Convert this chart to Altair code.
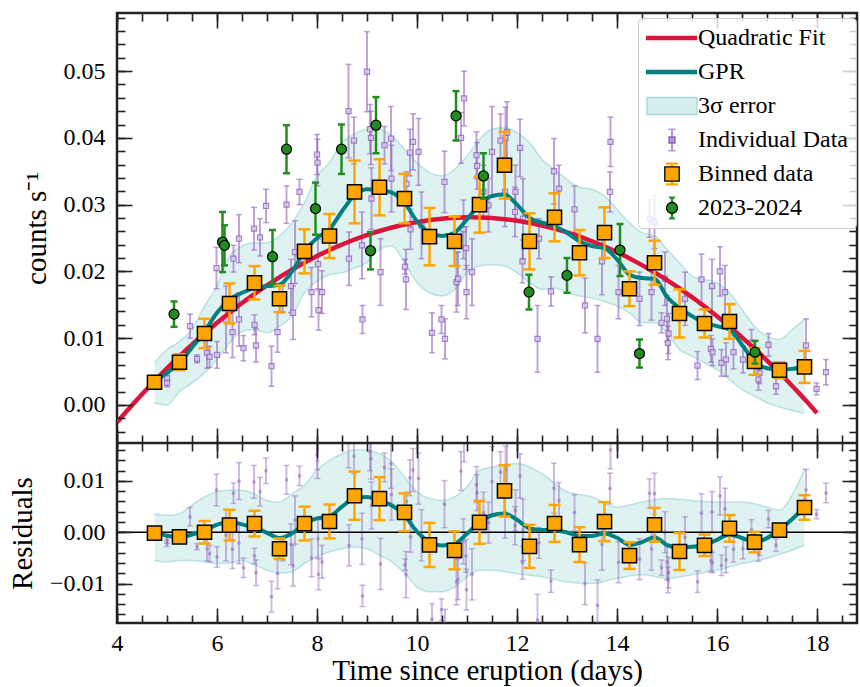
import altair as alt
import numpy as np
import pandas as pd

FONT = "Liberation Serif"
INK = "#222222"
PURPLE = "#9467bd"
ORANGE = "#FFA500"
GREEN = "#228B22"
CRIMSON = "#DC143C"
TEAL = "#008080"
BAND = "#40b0b0"

# ---- individual observations: days since eruption, count rate (counts/s), 1-sigma error
IND_T = [5.00, 5.00, 5.46, 5.60, 5.80, 5.85, 5.99, 6.00, 6.18, 6.31,
         6.33, 6.44, 6.44, 6.53, 6.74, 6.75, 6.78, 6.86, 6.98, 7.09,
         7.21, 7.31, 7.39, 7.48, 7.52, 7.56, 7.65, 7.89, 8.00, 8.01,
         8.02, 8.03, 8.10, 8.63, 8.64, 8.74, 8.90, 8.91, 9.00, 9.06,
         9.08, 9.09, 9.27, 9.35, 9.48, 9.49, 9.76, 9.78, 9.79, 9.86,
         9.87, 9.92, 10.03, 10.09, 10.30, 10.49, 10.55, 10.56, 10.79, 10.82,
         10.88, 10.93, 10.94, 10.98, 10.99, 11.10, 11.19, 11.20, 11.33, 11.43,
         11.50, 11.67, 11.76, 11.77, 11.80, 11.96, 11.97, 12.06, 12.11, 12.12,
         12.41, 12.44, 12.68, 12.74, 12.84, 13.15, 13.36, 13.61, 13.70, 13.86,
         13.87, 14.03, 14.45, 14.65, 14.69, 14.75, 14.89, 14.96, 15.00, 15.02,
         15.03, 15.36, 15.61, 15.69, 15.88, 15.90, 15.91, 16.06, 16.09, 16.16,
         16.18, 16.33, 16.52, 16.69, 16.83, 16.85, 17.03, 17.18, 17.78, 17.99,
         18.18]
IND_Y = [0.0040, 0.0033, 0.0118, 0.0069, 0.0078, 0.0072, 0.0205, 0.0075, 0.0128, 0.0109,
         0.0219, 0.0249, 0.0128, 0.0085, 0.0264, 0.0120, 0.0089, 0.0251, 0.0298, 0.0058,
         0.0109, 0.0158, 0.0300, 0.0178, 0.0138, 0.0229, 0.0319, 0.0169, 0.0375, 0.0363,
         0.0211, 0.0142, 0.0169, 0.0440, 0.0219, 0.0396, 0.0239, 0.0128, 0.0499, 0.0413,
         0.0400, 0.0309, 0.0199, 0.0389, 0.0399, 0.0339, 0.0207, 0.0188, 0.0331, 0.0378,
         0.0263, 0.0394, 0.0379, 0.0269, 0.0108, 0.0128, 0.0334, 0.0099, 0.0184, 0.0189,
         0.0400, 0.0263, 0.0459, 0.0235, 0.0169, 0.0199, 0.0374, 0.0358, 0.0319, 0.0299,
         0.0379, 0.0396, 0.0319, 0.0400, 0.0408, 0.0289, 0.0319, 0.0385, 0.0215, 0.0279,
         0.0099, 0.0249, 0.0170, 0.0350, 0.0324, 0.0293, 0.0149, 0.0099, 0.0215, 0.0319,
         0.0394, 0.0169, 0.0159, 0.0279, 0.0169, 0.0274, 0.0123, 0.0189, 0.0129, 0.0093,
         0.0107, 0.0159, 0.0059, 0.0188, 0.0084, 0.0178, 0.0079, 0.0200, 0.0063, 0.0169,
         0.0068, 0.0079, 0.0068, 0.0093, 0.0038, 0.0048, 0.0090, 0.0028, 0.0089, 0.0024,
         0.0049]
IND_E = [0.0006, 0.0006, 0.0018, 0.0006, 0.0023, 0.0016, 0.0031, 0.0020, 0.0050, 0.0038,
         0.0020, 0.0036, 0.0040, 0.0019, 0.0032, 0.0015, 0.0025, 0.0028, 0.0025, 0.0030,
         0.0030, 0.0020, 0.0028, 0.0040, 0.0040, 0.0047, 0.0019, 0.0037, 0.0030, 0.0035,
         0.0037, 0.0030, 0.0032, 0.0070, 0.0040, 0.0035, 0.0050, 0.0021, 0.0060, 0.0037,
         0.0040, 0.0046, 0.0050, 0.0028, 0.0048, 0.0050, 0.0011, 0.0045, 0.0018, 0.0035,
         0.0030, 0.0042, 0.0050, 0.0050, 0.0030, 0.0021, 0.0046, 0.0030, 0.0045, 0.0040,
         0.0038, 0.0044, 0.0041, 0.0032, 0.0040, 0.0050, 0.0035, 0.0035, 0.0040, 0.0040,
         0.0068, 0.0040, 0.0052, 0.0046, 0.0046, 0.0037, 0.0040, 0.0043, 0.0032, 0.0060,
         0.0050, 0.0030, 0.0022, 0.0049, 0.0035, 0.0035, 0.0041, 0.0050, 0.0050, 0.0030,
         0.0037, 0.0040, 0.0040, 0.0028, 0.0042, 0.0040, 0.0015, 0.0040, 0.0035, 0.0025,
         0.0030, 0.0040, 0.0021, 0.0038, 0.0020, 0.0040, 0.0020, 0.0037, 0.0020, 0.0040,
         0.0025, 0.0025, 0.0020, 0.0020, 0.0016, 0.0016, 0.0017, 0.0012, 0.0040, 0.0009,
         0.0019]

# ---- half-day bins
BIN_T = [4.75, 5.25, 5.75, 6.25, 6.75, 7.25, 7.75, 8.25, 8.75, 9.25, 9.75, 10.25, 10.75,
         11.25, 11.75, 12.25, 12.75, 13.25, 13.75, 14.25, 14.75, 15.25, 15.75, 16.25,
         16.75, 17.25, 17.75]
BIN_Y = [0.0034, 0.0064, 0.0107, 0.0152, 0.0183, 0.0159, 0.0230, 0.0253, 0.0319, 0.0326,
         0.0309, 0.0252, 0.0245, 0.0300, 0.0359, 0.0245, 0.0281, 0.0228, 0.0258, 0.0174,
         0.0213, 0.0137, 0.0122, 0.0125, 0.0065, 0.0052, 0.0057]
BIN_E = [0.0005, 0.0012, 0.0022, 0.0030, 0.0025, 0.0020, 0.0033, 0.0033, 0.0047, 0.0042,
         0.0037, 0.0043, 0.0037, 0.0042, 0.0050, 0.0042, 0.0036, 0.0034, 0.0038, 0.0026,
         0.0033, 0.0036, 0.0021, 0.0026, 0.0020, 0.0012, 0.0024]

# ---- 2023-2024 eruption
NEW_T = [5.14, 6.11, 6.15, 7.11, 7.39, 7.97, 8.49, 9.07, 9.18, 10.78, 11.33, 12.24,
         13.00, 14.06, 14.45, 16.76]
NEW_Y = [0.0136, 0.0244, 0.0239, 0.0222, 0.0383, 0.0294, 0.0383, 0.0231, 0.0419, 0.0433,
         0.0343, 0.0169, 0.0194, 0.0232, 0.0077, 0.0079]
NEW_E = [0.0019, 0.0045, 0.0030, 0.0040, 0.0036, 0.0039, 0.0037, 0.0028, 0.0042, 0.0037,
         0.0034, 0.0026, 0.0026, 0.0039, 0.0021, 0.0017]

# ---- Gaussian-process regression curve and its 3-sigma envelope
GPR_T = [4.75, 5.0, 5.25, 5.5, 5.75, 6.0, 6.25, 6.5, 6.75, 7.0, 7.25, 7.5, 7.75, 8.0,
         8.25, 8.5, 8.75, 9.0, 9.25, 9.5, 9.75, 10.0, 10.25, 10.5, 10.75, 11.0, 11.25,
         11.5, 11.75, 12.0, 12.25, 12.5, 12.75, 13.0, 13.25, 13.5, 13.75, 14.0, 14.25,
         14.5, 14.75, 15.0, 15.25, 15.5, 15.75, 16.0, 16.25, 16.5, 16.75, 17.0, 17.25,
         17.5, 17.75]
GPR_Y = [0.0035, 0.0048, 0.0063, 0.0086, 0.0110, 0.0138, 0.0158, 0.0168, 0.0175, 0.0178,
         0.0180, 0.0200, 0.0230, 0.0250, 0.0263, 0.0290, 0.0314, 0.0323, 0.0322, 0.0318,
         0.0303, 0.0275, 0.0258, 0.0253, 0.0258, 0.0278, 0.0300, 0.0313, 0.0315, 0.0300,
         0.0280, 0.0273, 0.0268, 0.0258, 0.0245, 0.0238, 0.0235, 0.0218, 0.0195, 0.0190,
         0.0189, 0.0162, 0.0145, 0.0133, 0.0123, 0.0118, 0.0113, 0.0090, 0.0065, 0.0055,
         0.0053, 0.0054, 0.0058]
GPR_HI = [0.0063, 0.0083, 0.0095, 0.0113, 0.0148, 0.0178, 0.0223, 0.0238, 0.0243, 0.0243,
          0.0253, 0.0273, 0.0303, 0.0343, 0.0363, 0.0393, 0.0406, 0.0413, 0.0413, 0.0403,
          0.0383, 0.0363, 0.0348, 0.0343, 0.0353, 0.0373, 0.0398, 0.0413, 0.0415, 0.0408,
          0.0393, 0.0368, 0.0353, 0.0338, 0.0326, 0.0323, 0.0313, 0.0293, 0.0273, 0.0258,
          0.0253, 0.0233, 0.0213, 0.0193, 0.0188, 0.0183, 0.0168, 0.0143, 0.0118, 0.0103,
          0.0098, 0.0113, 0.0128]
GPR_LO = [0.0003, 0.0000, 0.0020, 0.0033, 0.0048, 0.0068, 0.0093, 0.0110, 0.0113, 0.0108,
          0.0118, 0.0133, 0.0168, 0.0185, 0.0195, 0.0198, 0.0205, 0.0213, 0.0233, 0.0238,
          0.0213, 0.0183, 0.0168, 0.0163, 0.0173, 0.0198, 0.0208, 0.0210, 0.0208, 0.0198,
          0.0183, 0.0173, 0.0175, 0.0168, 0.0163, 0.0160, 0.0155, 0.0148, 0.0138, 0.0123,
          0.0123, 0.0108, 0.0083, 0.0073, 0.0063, 0.0053, 0.0038, 0.0023, 0.0013, 0.0003,
          -0.0003, -0.0008, -0.0013]

# ---- 3-sigma envelope of the GPR fit to the residuals
RES_T = [4.75, 5.0, 5.25, 5.5, 5.75, 6.0, 6.25, 6.5, 6.75, 7.0, 7.25, 7.5, 7.75, 8.0,
         8.25, 8.5, 8.75, 9.0, 9.25, 9.5, 9.75, 10.0, 10.25, 10.5, 10.75, 11.0, 11.25,
         11.5, 12.0, 12.5, 13.0, 13.5, 14.0, 14.5, 15.0, 15.5, 16.0, 16.5, 17.0, 17.25,
         17.5, 17.75]
RES_HI = [0.0036, 0.0033, 0.0036, 0.0053, 0.0069, 0.0079, 0.0082, 0.0082, 0.0075, 0.0062,
          0.0059, 0.0075, 0.0092, 0.0121, 0.0140, 0.0153, 0.0161, 0.0160, 0.0153, 0.0137,
          0.0108, 0.0079, 0.0066, 0.0062, 0.0069, 0.0088, 0.0121, 0.0127, 0.0134, 0.0114,
          0.0079, 0.0069, 0.0049, 0.0059, 0.0066, 0.0062, 0.0059, 0.0059, 0.0049, 0.0043,
          0.0072, 0.0123]
RES_LO = [-0.0055, -0.0058, -0.0055, -0.0055, -0.0058, -0.0061, -0.0060, -0.0055, -0.0064,
          -0.0074, -0.0080, -0.0077, -0.0061, -0.0048, -0.0038, -0.0032, -0.0029, -0.0032,
          -0.0045, -0.0058, -0.0080, -0.0107, -0.0116, -0.0116, -0.0107, -0.0087, -0.0074,
          -0.0074, -0.0081, -0.0087, -0.0097, -0.0100, -0.0090, -0.0083, -0.0090, -0.0083,
          -0.0074, -0.0061, -0.0051, -0.0043, -0.0035, -0.0025]

# quadratic fit rate = c0 + c1*t + c2*t^2, drawn over 4-18 d
QUAD_COEFFS = [-0.047035, 0.013562, -0.000612]
QUAD_RANGE = [4.0, 18.0]

# axis limits
X_DOMAIN = [4.0, 18.8]
TOP_DOMAIN = [-0.0057, 0.0587]
RES_DOMAIN = [-0.0177, 0.0174]


def quad(t):
    t = np.asarray(t, dtype=float)
    return QUAD_COEFFS[0] + QUAD_COEFFS[1] * t + QUAD_COEFFS[2] * t * t


# ---------------------------------------------------------------- tables
ind = pd.DataFrame({"t": IND_T, "y": IND_Y, "e": IND_E})
ind["lo"] = ind.y - ind.e
ind["hi"] = ind.y + ind.e
ind["r"] = ind.y - quad(ind.t)
ind["rlo"] = ind.r - ind.e
ind["rhi"] = ind.r + ind.e

binned = pd.DataFrame({"t": BIN_T, "y": BIN_Y, "e": BIN_E})
binned["lo"] = binned.y - binned.e
binned["hi"] = binned.y + binned.e
binned["r"] = binned.y - quad(binned.t)
binned["rlo"] = binned.r - binned.e
binned["rhi"] = binned.r + binned.e

new = pd.DataFrame({"t": NEW_T, "y": NEW_Y, "e": NEW_E})
new["lo"] = new.y - new.e
new["hi"] = new.y + new.e

gpr = pd.DataFrame({"t": GPR_T, "y": GPR_Y, "lo": GPR_LO, "hi": GPR_HI})
gpr["r"] = gpr.y - quad(gpr.t)
res_band = pd.DataFrame({"t": RES_T, "lo": RES_LO, "hi": RES_HI})

tq = np.linspace(QUAD_RANGE[0], QUAD_RANGE[1], 141)
fit = pd.DataFrame({"t": tq, "y": quad(tq)})
zero = pd.DataFrame({"y": [0.0]})
divider = pd.DataFrame({"y": [TOP_DOMAIN[0]]})

# ---------------------------------------------------------------- geometry
W, H_TOP, H_RES = 740, 430, 180
H = H_TOP + H_RES

XS = alt.Scale(domain=X_DOMAIN, nice=False, zero=False)
# both panels share one view: the light curve occupies the upper 430 px,
# the residuals the lower 180 px
YS_TOP = alt.Scale(domain=TOP_DOMAIN, range=[H_TOP, 0], nice=False, zero=False, clamp=True)
YS_RES = alt.Scale(domain=RES_DOMAIN, range=[H, H_TOP], nice=False, zero=False, clamp=True)

X_MAJOR = [4, 6, 8, 10, 12, 14, 16, 18]
X_MINOR = [round(4 + 0.5 * i, 2) for i in range(30)]
Y_MAJOR_TOP = [0.0, 0.01, 0.02, 0.03, 0.04, 0.05]
Y_MINOR_TOP = [round(-0.004 + 0.002 * i, 3) for i in range(32)]
Y_MAJOR_RES = [-0.01, 0.0, 0.01]
Y_MINOR_RES = [round(-0.016 + 0.002 * i, 3) for i in range(17)]
MAJ, MIN = 15, 8


def tick_axis(orient, values, length, offset=None):
    # inward-pointing ticks: the axis line is moved inside the frame by the tick length
    return alt.Axis(orient=orient, values=values, tickSize=length,
                    offset=-length if offset is None else offset,
                    labels=False, domain=False, grid=False, title=None, ticks=True,
                    tickColor=INK, tickWidth=1.6, zindex=1, minExtent=0)


def label_axis(orient, values, fmt, title, pad, tpad):
    return alt.Axis(orient=orient, values=values, format=fmt, ticks=False, domain=False,
                    grid=False, labelPadding=pad, labelFlush=False, labelOverlap=False,
                    title=title, titlePadding=tpad, minExtent=0)


def X(field, axis=None):
    return alt.X(f"{field}:Q", scale=XS, axis=axis)


def YT(field, axis=None):
    return alt.Y(f"{field}:Q", scale=YS_TOP, axis=axis)


def YR(field, axis=None):
    return alt.Y(f"{field}:Q", scale=YS_RES, axis=axis)


def inside_res(field):
    return (alt.datum[field] >= RES_DOMAIN[0]) & (alt.datum[field] <= RES_DOMAIN[1])


# ---------------------------------------------------------------- legend
LEG_LABELS = ["Quadratic Fit", "GPR", "3\u03c3 error", "Individual Data", "Binned data",
              "2023-2024"]
LEG_FILL = [CRIMSON, TEAL, "#d5eeee", "#b596d9", ORANGE, GREEN]
LEG_PATHS = [
    "M-2.6,-0.22H2.5V0.22H-2.6Z",
    "M-2.6,-0.22H2.5V0.22H-2.6Z",
    "M-2.5,-0.85H2.5V0.85H-2.5Z",
    "M-0.1,-1.05H0.1V1.05H-0.1Z M-0.35,-1.15H0.35V-1.0H-0.35Z M-0.35,1.0H0.35V1.15H-0.35Z "
    "M-0.3,-0.3H0.3V0.3H-0.3Z",
    "M-0.13,-1.0H0.13V1.0H-0.13Z M-0.6,-1.15H0.6V-0.92H-0.6Z M-0.6,0.92H0.6V1.15H-0.6Z "
    "M-0.72,-0.72H0.72V0.72H-0.72Z",
    "M-0.12,-1.05H0.12V1.05H-0.12Z M-0.3,-1.15H0.3V-0.95H-0.3Z M-0.3,0.95H0.3V1.15H-0.3Z "
    "M0.55,0A0.55,0.55 0 1,1 -0.55,0A0.55,0.55 0 1,1 0.55,0Z",
]
LEG_EDGE = ["transparent", "transparent", "#a6d8d8", "#8a5fb8", "#000000", "#000000"]
LEG_EDGE_PATHS = [
    "M-0.05,0H0.05",
    "M-0.05,0H0.05",
    "M-2.5,-0.85H2.5V0.85H-2.5Z",
    "M-0.3,-0.3H0.3V0.3H-0.3Z",
    "M-0.72,-0.72H0.72V0.72H-0.72Z",
    "M0.55,0A0.55,0.55 0 1,1 -0.55,0A0.55,0.55 0 1,1 0.55,0Z",
]
leg_df = pd.DataFrame({"entry": LEG_LABELS, "edge": LEG_LABELS})

LEG_COMMON = dict(title=None, orient="none", direction="vertical", legendX=521, legendY=5,
                  padding=8, rowPadding=10, symbolSize=400, symbolOffset=14,
                  labelOffset=14, labelFont=FONT, labelFontSize=24, labelColor="black",
                  labelLimit=400, symbolOpacity=1)
leg_fill = alt.Legend(fillColor="rgba(255,255,255,0.8)", strokeColor="#cccccc",
                      cornerRadius=4, symbolStrokeWidth=0, zindex=1, **LEG_COMMON)
leg_edge = alt.Legend(labelOpacity=0, symbolStrokeWidth=1.3, symbolFillColor="transparent",
                      zindex=2, **LEG_COMMON)

legend_fill_layer = alt.Chart(leg_df).mark_point(filled=True, opacity=0).encode(
    color=alt.Color("entry:N", scale=alt.Scale(domain=LEG_LABELS, range=LEG_FILL),
                    legend=leg_fill),
    shape=alt.Shape("entry:N", scale=alt.Scale(domain=LEG_LABELS, range=LEG_PATHS),
                    legend=leg_fill),
)
legend_edge_layer = alt.Chart(leg_df).mark_point(filled=False, opacity=0).encode(
    color=alt.Color("edge:N", scale=alt.Scale(domain=LEG_LABELS, range=LEG_EDGE),
                    legend=leg_edge),
    shape=alt.Shape("edge:N", scale=alt.Scale(domain=LEG_LABELS, range=LEG_EDGE_PATHS),
                    legend=leg_edge),
)

# ---------------------------------------------------------------- light curve (upper part)
top_layers = [
    alt.Chart(gpr).mark_area(color=BAND, opacity=0.17, interpolate="monotone", clip=True)
    .encode(x=X("t", tick_axis("top", X_MAJOR, MAJ)),
            y=YT("hi", tick_axis("left", Y_MAJOR_TOP, MAJ)), y2="lo:Q"),
    alt.Chart(gpr).mark_line(color=BAND, opacity=0.3, strokeWidth=1.5,
                             interpolate="monotone", clip=True)
    .encode(x=X("t", tick_axis("top", X_MINOR, MIN)),
            y=YT("hi", tick_axis("left", Y_MINOR_TOP, MIN))),
    alt.Chart(gpr).mark_line(color=BAND, opacity=0.3, strokeWidth=1.5,
                             interpolate="monotone", clip=True)
    .encode(x=X("t", tick_axis("bottom", X_MAJOR, MAJ, -(H_RES + MAJ))),
            y=YT("lo", tick_axis("right", Y_MAJOR_TOP, MAJ))),
    alt.Chart(ind).mark_rule(color=PURPLE, opacity=0.6, strokeWidth=2, clip=True)
    .encode(x=X("t", tick_axis("bottom", X_MINOR, MIN, -(H_RES + MIN))),
            y=YT("lo", tick_axis("right", Y_MINOR_TOP, MIN)), y2="hi:Q"),
    alt.Chart(ind).mark_tick(orient="horizontal", size=6, thickness=1.5, color=PURPLE,
                             opacity=0.6, clip=True)
    .encode(x=X("t"), y=YT("lo")),
    alt.Chart(ind).mark_tick(orient="horizontal", size=6, thickness=1.5, color=PURPLE,
                             opacity=0.6, clip=True)
    .encode(x=X("t"), y=YT("hi")),
    alt.Chart(ind).mark_square(size=26, fill="#d9c7ee", stroke=PURPLE, strokeWidth=1.2,
                               opacity=0.8, clip=True)
    .encode(x=X("t"),
            y=YT("y", label_axis("left", Y_MAJOR_TOP, ".2f", "counts s\u207b\u00b9", 12, 12))),
    alt.Chart(fit).mark_line(color=CRIMSON, strokeWidth=4.5, clip=True)
    .encode(x=X("t"), y=YT("y")),
    alt.Chart(gpr).mark_line(color=TEAL, strokeWidth=4, interpolate="monotone", clip=True)
    .encode(x=X("t"), y=YT("y")),
    alt.Chart(binned).mark_rule(color=ORANGE, strokeWidth=2.5, clip=True)
    .encode(x=X("t"), y=YT("lo"), y2="hi:Q"),
    alt.Chart(binned).mark_tick(orient="horizontal", size=12, thickness=2.5, color=ORANGE,
                                opacity=1, clip=True)
    .encode(x=X("t"), y=YT("lo")),
    alt.Chart(binned).mark_tick(orient="horizontal", size=12, thickness=2.5, color=ORANGE,
                                opacity=1, clip=True)
    .encode(x=X("t"), y=YT("hi")),
    alt.Chart(binned).mark_square(size=200, fill=ORANGE, stroke="black", strokeWidth=1.5,
                                  opacity=1, clip=True)
    .encode(x=X("t"), y=YT("y")),
    alt.Chart(new).mark_rule(color=GREEN, strokeWidth=2.5, clip=True)
    .encode(x=X("t"), y=YT("lo"), y2="hi:Q"),
    alt.Chart(new).mark_tick(orient="horizontal", size=7, thickness=2.5, color=GREEN,
                             opacity=1, clip=True)
    .encode(x=X("t"), y=YT("lo")),
    alt.Chart(new).mark_tick(orient="horizontal", size=7, thickness=2.5, color=GREEN,
                             opacity=1, clip=True)
    .encode(x=X("t"), y=YT("hi")),
    alt.Chart(new).mark_circle(size=100, fill=GREEN, stroke="black", strokeWidth=1.2,
                               opacity=1, clip=True)
    .encode(x=X("t"), y=YT("y")),
]

# ---------------------------------------------------------------- residuals (lower part)
res_layers = [
    alt.Chart(res_band).mark_area(color=BAND, opacity=0.17, interpolate="monotone", clip=True)
    .encode(x=X("t", tick_axis("top", X_MAJOR, MAJ, -(H_TOP + MAJ))),
            y=YR("hi", tick_axis("left", Y_MAJOR_RES, MAJ)), y2="lo:Q"),
    alt.Chart(res_band).mark_line(color=BAND, opacity=0.3, strokeWidth=1.5,
                                  interpolate="monotone", clip=True)
    .encode(x=X("t", tick_axis("top", X_MINOR, MIN, -(H_TOP + MIN))),
            y=YR("hi", tick_axis("left", Y_MINOR_RES, MIN))),
    alt.Chart(res_band).mark_line(color=BAND, opacity=0.3, strokeWidth=1.5,
                                  interpolate="monotone", clip=True)
    .encode(x=X("t", tick_axis("bottom", X_MAJOR, MAJ)),
            y=YR("lo", tick_axis("right", Y_MAJOR_RES, MAJ))),
    alt.Chart(ind).mark_rule(color=PURPLE, opacity=0.45, strokeWidth=2, clip=True)
    .encode(x=X("t", tick_axis("bottom", X_MINOR, MIN)),
            y=YR("rlo", tick_axis("right", Y_MINOR_RES, MIN)), y2="rhi:Q"),
    alt.Chart(ind).transform_filter(inside_res("rlo"))
    .mark_tick(orient="horizontal", size=6, thickness=1.5, color=PURPLE, opacity=0.45,
               clip=True)
    .encode(x=X("t"), y=YR("rlo")),
    alt.Chart(ind).transform_filter(inside_res("rhi"))
    .mark_tick(orient="horizontal", size=6, thickness=1.5, color=PURPLE, opacity=0.45,
               clip=True)
    .encode(x=X("t"), y=YR("rhi")),
    alt.Chart(ind).transform_filter(inside_res("r"))
    .mark_circle(size=14, color=PURPLE, opacity=0.55, clip=True)
    .encode(x=X("t", label_axis("bottom", X_MAJOR, "d", "Time since eruption (days)", 8, 1)),
            y=YR("r", label_axis("left", Y_MAJOR_RES, ".2f", "Residuals", 12, 12))),
    alt.Chart(zero).mark_rule(color="black", strokeWidth=1.5)
    .encode(y=YR("y")),
    alt.Chart(gpr).mark_line(color=TEAL, strokeWidth=4, interpolate="monotone", clip=True)
    .encode(x=X("t"), y=YR("r")),
    alt.Chart(binned).mark_rule(color=ORANGE, strokeWidth=2.5, clip=True)
    .encode(x=X("t"), y=YR("rlo"), y2="rhi:Q"),
    alt.Chart(binned).mark_tick(orient="horizontal", size=12, thickness=2.5, color=ORANGE,
                                opacity=1, clip=True)
    .encode(x=X("t"), y=YR("rlo")),
    alt.Chart(binned).mark_tick(orient="horizontal", size=12, thickness=2.5, color=ORANGE,
                                opacity=1, clip=True)
    .encode(x=X("t"), y=YR("rhi")),
    alt.Chart(binned).mark_square(size=200, fill=ORANGE, stroke="black", strokeWidth=1.5,
                                  opacity=1, clip=True)
    .encode(x=X("t"), y=YR("r")),
]

# frame line between the two parts
divider_layer = alt.Chart(divider).mark_rule(color=INK, strokeWidth=2.5).encode(y=YT("y"))

chart = (
    alt.layer(*top_layers, *res_layers, divider_layer, legend_fill_layer, legend_edge_layer)
    .resolve_scale(y="independent", color="independent", shape="independent")
    .resolve_axis(x="independent", y="independent")
    .resolve_legend(color="independent", shape="independent")
    .properties(width=W, height=H,
                autosize=alt.AutoSizeParams(type="none"),
                padding={"left": 117, "top": 13, "right": 3, "bottom": 64},
                background="white")
    .configure(font=FONT)
    .configure_view(stroke=INK, strokeWidth=2.5)
    .configure_axis(labelFont=FONT, titleFont=FONT, labelFontSize=24, titleFontSize=29,
                    titleFontWeight="normal", labelColor="black", titleColor="black",
                    grid=False)
)

chart.save("out.html", embed_options={"renderer": "svg", "actions": False})
